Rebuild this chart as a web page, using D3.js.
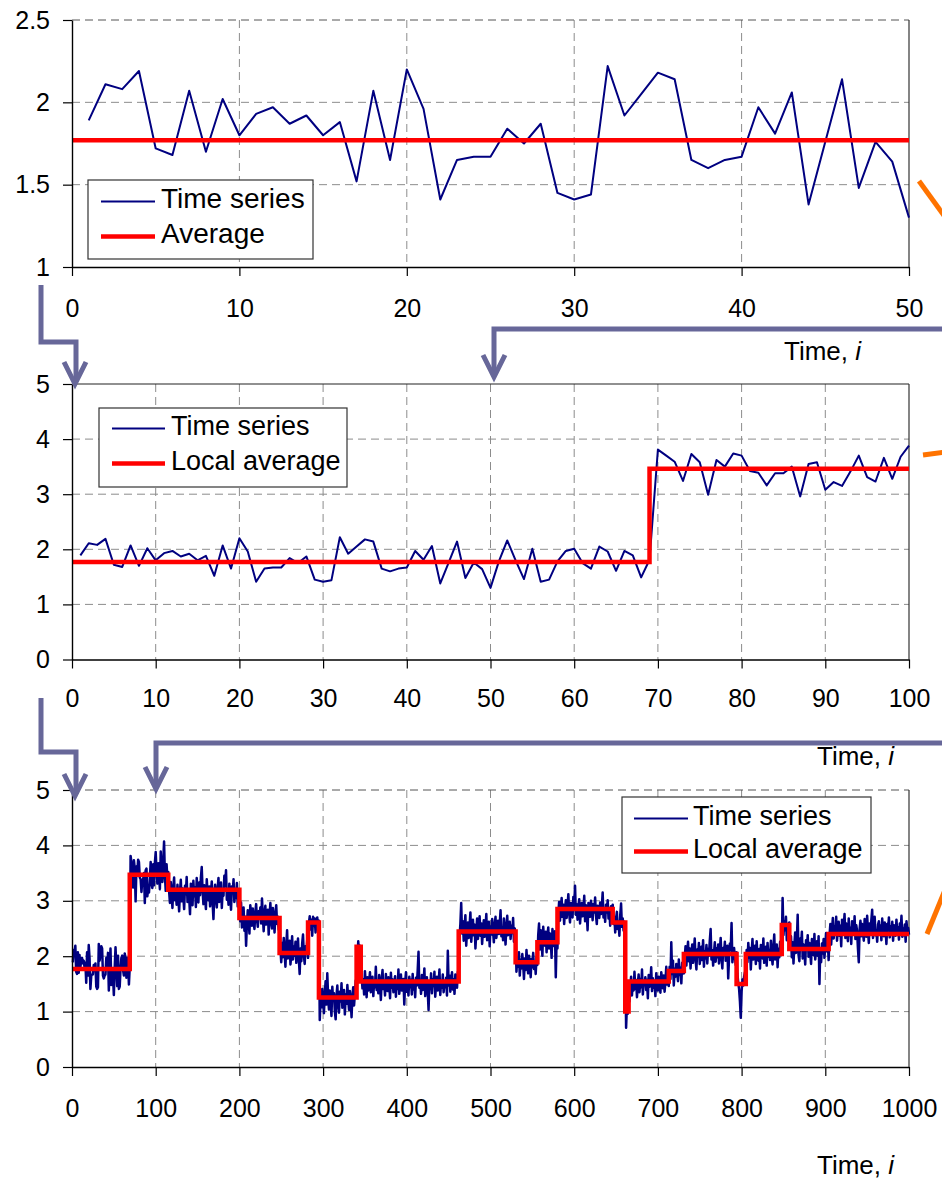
<!DOCTYPE html>
<html>
<head>
<meta charset="utf-8">
<script src="https://cdn.jsdelivr.net/npm/d3@7"></script>
<style>
  html, body { margin: 0; padding: 0; background: #ffffff; }
  svg { display: block; font-family: "Liberation Sans", Arial, sans-serif; }
</style>
</head>
<body>
<svg id="fig" width="942" height="1179"></svg>
<script>
// ---- observations i = 1..50 ----
const seriesFirst50 = [1.89,2.11,2.08,2.19,1.72,1.68,2.07,1.70,2.02,1.80,1.93,1.97,1.87,1.92,1.80,1.88,1.52,2.07,1.65,2.20,
  1.96,1.41,1.65,1.67,1.67,1.84,1.75,1.87,1.45,1.41,1.44,2.22,1.92,2.05,2.18,2.14,1.65,1.60,1.65,1.67,
  1.97,1.81,2.06,1.38,1.76,2.14,1.48,1.76,1.64,1.30];

// ---- observations i = 51..100 ----
const seriesNext50 = [1.78,2.16,1.80,1.46,2.01,1.41,1.45,1.78,1.97,2.01,1.75,1.65,2.05,1.96,1.61,1.97,1.89,1.49,1.81,3.81,
  3.70,3.59,3.24,3.73,3.58,2.99,3.62,3.50,3.74,3.70,3.42,3.39,3.16,3.38,3.38,3.50,2.96,3.55,3.58,3.08,
  3.22,3.15,3.41,3.70,3.31,3.23,3.66,3.28,3.68,3.88];

// ---- observations i = 101..1000 ----
const seriesRest = [
  3.52,3.31,3.68,3.47,3.21,3.89,3.56,3.34,3.72,4.07,3.45,3.18,3.66,3.39,3.52,
  3.18,2.96,3.34,3.11,2.87,3.25,3.42,3.01,3.15,2.93,3.29,3.06,2.81,3.17,3.38,2.99,3.22,3.09,2.85,3.27,
  3.12,3.43,2.98,3.20,3.05,2.76,3.31,3.14,2.92,3.36,3.08,3.24,2.89,3.41,3.15,2.97,3.33,3.10,3.42,3.61,
  3.19,2.94,3.28,3.06,2.85,3.39,3.12,3.01,3.26,2.90,3.17,3.35,2.96,2.67,3.11,3.29,3.04,2.88,3.22,3.41,
  2.98,3.16,3.33,2.87,3.20,3.09,3.45,3.27,3.55,3.02,3.18,2.93,3.31,3.07,2.84,3.26,3.14,3.39,2.98,3.21,
  3.05,3.32,2.90,3.15,
  2.81,2.63,2.97,2.52,2.74,2.88,2.46,2.71,2.19,2.59,2.83,2.68,2.41,2.92,2.77,2.55,2.86,2.62,2.49,2.79,
  2.94,2.66,2.53,2.81,2.70,2.88,2.59,3.04,2.72,2.45,2.78,2.91,2.57,2.66,2.84,2.39,2.73,2.96,2.61,2.50,
  2.87,2.69,2.43,2.76,2.92,2.58,2.71,2.48,2.65,
  2.13,1.89,2.24,1.98,2.33,2.07,1.81,2.19,2.47,1.96,2.11,2.28,1.85,2.03,2.36,1.94,2.17,2.01,2.26,1.88,
  2.09,2.32,1.95,1.68,2.14,1.91,2.23,2.39,2.02,1.86,2.18,2.05,2.29,1.97,
  2.59,2.72,2.48,2.66,2.37,2.71,2.55,2.68,2.43,2.62,2.70,2.51,2.64,
  0.85,1.24,1.08,1.41,1.19,0.97,1.32,1.55,1.13,1.69,1.27,1.04,1.38,1.16,0.92,1.45,1.21,1.33,1.01,0.86,
  1.29,1.47,1.12,0.98,1.36,1.18,1.51,1.07,1.25,1.39,0.95,1.31,1.14,1.48,1.22,1.03,1.37,1.19,0.90,1.28,
  1.44,1.11,1.33,1.56,1.25,
  1.98,2.27,2.05,2.19,2.13,
  1.67,1.42,1.58,1.31,1.73,1.49,1.26,1.62,1.38,1.54,1.71,1.35,1.47,1.63,1.28,1.56,1.44,1.81,1.39,1.52,
  1.33,1.66,1.48,1.21,1.59,1.75,1.41,1.53,1.29,1.68,1.46,1.37,1.62,1.51,1.24,1.70,1.43,1.58,1.35,1.49,
  1.64,1.27,1.55,1.41,1.76,1.32,1.50,1.67,1.38,1.45,1.59,1.13,1.52,1.71,1.36,1.48,1.29,1.63,1.44,1.57,
  1.31,1.68,1.40,1.53,1.26,1.61,1.47,1.74,2.08,1.43,1.55,1.32,1.66,1.39,1.50,1.78,1.28,1.45,1.62,1.37,
  1.03,1.54,1.41,1.69,1.33,1.58,1.46,1.72,1.27,1.51,1.63,1.38,1.49,1.76,1.30,1.55,1.43,1.67,1.35,1.52,
  1.44,1.61,1.29,2.10,1.47,1.65,1.36,1.53,1.71,1.40,1.58,1.32,1.67,1.49,1.43,1.72,1.55,
  2.36,2.58,2.96,2.41,2.63,2.28,2.52,2.74,2.19,2.47,2.61,2.33,2.55,2.79,2.26,2.49,2.66,2.38,2.57,2.14,
  2.43,2.68,2.31,2.54,2.72,2.37,2.59,2.22,2.48,2.65,2.35,2.51,2.76,2.29,2.44,2.62,2.18,2.53,2.39,2.67,
  2.46,2.25,2.58,2.71,2.33,2.49,2.64,2.40,2.57,2.83,2.36,2.52,2.29,2.68,2.44,2.21,2.56,2.73,2.38,2.47,
  2.62,2.31,2.55,2.42,2.69,2.26,2.50,2.37,
  1.72,1.98,1.81,2.07,1.65,1.93,1.78,2.04,1.86,1.59,1.96,1.75,2.11,1.83,1.69,2.01,1.88,1.62,1.95,1.80,
  2.06,1.77,1.91,1.68,1.99,1.84,
  2.38,2.59,2.12,2.47,2.26,2.01,2.53,2.31,2.19,2.44,2.07,2.36,2.52,2.14,2.41,2.28,1.97,2.49,2.33,2.18,
  2.45,1.62,2.31,2.14,
  2.76,2.98,2.64,2.87,3.05,2.71,2.93,2.58,2.84,3.01,2.69,2.90,3.12,2.78,2.61,2.96,2.83,2.70,3.07,2.88,
  3.27,2.75,2.94,2.66,2.89,3.03,2.59,2.81,2.96,2.72,2.85,3.09,2.63,2.92,2.78,2.47,2.96,2.84,2.71,3.00,
  2.88,2.65,2.94,2.79,3.06,2.74,2.58,2.91,2.83,2.69,2.97,2.76,2.89,3.15,2.70,2.86,2.62,2.93,2.79,3.01,
  2.68,2.84,2.55,2.90,2.77,2.93,
  2.58,2.71,2.43,2.66,2.80,2.49,2.62,2.37,2.74,2.95,2.53,2.68,2.46,2.62,2.32,
  0.71,1.12,0.96,1.21,
  1.18,1.46,1.63,1.29,1.55,1.38,1.72,1.41,1.57,1.26,1.50,1.67,1.35,1.59,1.44,1.76,1.31,1.53,1.48,1.62,
  1.39,1.57,1.24,1.66,1.45,1.52,1.80,1.37,1.60,1.43,1.55,1.28,1.69,1.47,1.38,1.63,1.51,1.34,1.71,1.58,
  1.42,1.65,1.36,1.54,1.81,1.49,1.62,1.46,
  1.81,1.59,2.25,1.68,1.92,1.47,1.77,1.63,1.86,1.72,1.55,1.94,1.66,1.79,1.51,1.88,1.74,1.69,
  1.96,2.18,1.83,2.07,2.26,1.91,2.14,1.78,2.03,2.21,1.88,2.09,2.32,1.95,1.76,2.12,1.99,2.24,1.86,2.05,
  2.17,1.93,2.29,1.81,2.08,1.96,2.20,1.87,2.13,2.01,2.28,2.49,1.94,2.11,1.83,2.06,2.25,1.90,2.14,1.98,
  2.21,1.87,2.09,2.33,1.96,1.78,2.15,2.03,2.26,1.92,2.08,2.19,1.60,1.97,2.23,2.11,2.60,1.89,2.06,2.15,
  1.98,1.84,2.07,
  1.68,1.52,1.41,1.19,0.89,1.36,1.58,1.47,1.63,1.71,1.56,
  2.11,1.89,2.24,1.97,2.15,1.76,2.08,2.31,1.94,2.03,2.19,1.86,2.27,2.01,1.92,2.13,1.78,2.20,2.05,1.96,
  2.32,1.88,2.09,2.17,1.83,2.24,1.99,2.11,1.93,2.28,2.02,1.85,2.16,2.39,1.94,2.07,2.21,1.80,2.13,1.98,
  2.26,2.05,2.19,
  3.05,2.38,2.62,2.47,2.71,2.29,2.58,2.44,2.61,
  2.14,2.36,1.98,2.25,1.87,2.19,2.43,2.06,2.28,2.75,2.03,1.91,2.32,2.17,2.44,1.96,2.21,2.08,1.85,2.29,
  2.13,2.38,1.99,2.24,2.07,1.86,2.31,2.15,2.02,2.40,1.94,2.19,2.27,2.01,2.36,1.50,2.12,1.89,2.23,2.05,
  2.31,1.97,2.18,2.42,2.09,2.26,1.93,
  2.36,2.58,2.21,2.47,2.69,2.32,2.54,2.43,2.71,2.28,2.49,2.62,2.37,2.55,2.18,2.66,2.41,2.53,2.76,2.33,
  2.59,2.44,2.27,2.68,2.38,2.51,2.22,2.63,2.47,2.39,2.72,2.31,2.56,2.45,2.14,1.89,2.49,2.64,2.36,2.58,
  2.42,2.28,2.67,2.51,2.35,2.73,2.46,2.24,2.59,2.40,2.65,2.84,2.33,2.52,2.71,2.38,2.46,2.26,2.57,2.63,
  2.41,2.55,2.29,2.68,2.43,2.36,2.61,2.50,2.22,2.58,2.47,2.70,2.34,2.53,2.39,2.62,2.28,2.56,2.45,2.37,
  2.66,2.41,2.52,2.30,2.59,2.44,2.73,2.35,2.49,2.38,2.57,2.26,2.63,2.44,2.51,2.39
];

// ---- averages ----
const overallAverage = 1.77;
const midBreaks = [0, 69, 100];
const midLevels = [1.77, 3.46];
const longBreaks = [0, 69, 115, 200, 248, 282, 295, 340, 345, 462, 530, 556, 580, 646, 661, 665, 713, 731, 794, 805, 848, 857, 904, 1000];
const longLevels = [1.77, 3.47, 3.20, 2.69, 2.06, 2.61, 1.255, 2.17, 1.545, 2.445, 1.89, 2.25, 2.85, 2.61, 1.0, 1.545, 1.735, 2.04, 1.50, 2.04, 2.565, 2.13, 2.40];

// ---- axis ticks ----
const topTicksX = [0, 10, 20, 30, 40, 50];
const topTicksY = [1, 1.5, 2, 2.5];
const midTicksX = [0, 10, 20, 30, 40, 50, 60, 70, 80, 90, 100];
const midTicksY = [0, 1, 2, 3, 4, 5];
const longTicksX = [0, 100, 200, 300, 400, 500, 600, 700, 800, 900, 1000];
const longTicksY = [0, 1, 2, 3, 4, 5];

const axisTitle = "Time, ";
const axisTitleVar = "i";
const legendSeries = "Time series";
const legendAvgTop = "Average";
const legendAvgLocal = "Local average";

// -------------------------------------------------------------------
const svg = d3.select("#fig");
const NAVY = "#000080", RED = "#ff0000", GRID = "#8c8c8c";
const ARROW = "#676799", ORANGE = "#ff7300";

function toPoints(values, startIndex) {
  return values.map((v, k) => ({ i: startIndex + k, v }));
}
function stepPoints(breaks, levels) {
  const pts = levels.map((lv, k) => ({ i: breaks[k], v: lv }));
  pts.push({ i: breaks[breaks.length - 1], v: levels[levels.length - 1] });
  return pts;
}

function panel(cfg) {
  const x = d3.scaleLinear().domain(cfg.xDomain).range([72, 909]);
  const y = d3.scaleLinear().domain(cfg.yDomain).range([cfg.bottom, cfg.top]);
  const g = svg.append("g");

  // dashed grid
  g.append("g").selectAll("line").data(cfg.xTicks.slice(1, -1)).join("line")
    .attr("x1", d => x(d)).attr("x2", d => x(d))
    .attr("y1", cfg.top).attr("y2", cfg.bottom)
    .attr("stroke", GRID).attr("stroke-width", 1).attr("stroke-dasharray", "8,5");
  g.append("g").selectAll("line").data(cfg.yTicks.slice(1, cfg.topSolid ? -1 : undefined)).join("line")
    .attr("x1", 72).attr("x2", 909)
    .attr("y1", d => y(d)).attr("y2", d => y(d))
    .attr("stroke", d => d === cfg.yDomain[1] ? "#555" : GRID)
    .attr("stroke-width", 1).attr("stroke-dasharray", "8,5");
  if (cfg.topSolid) {
    g.append("line").attr("x1", 72).attr("x2", 909).attr("y1", cfg.top).attr("y2", cfg.top)
      .attr("stroke", "#222").attr("stroke-width", 1.2);
  }
  // right border
  g.append("line").attr("x1", 909).attr("x2", 909).attr("y1", cfg.top).attr("y2", cfg.bottom)
    .attr("stroke", "#333").attr("stroke-width", 1.2);

  // series line
  const line = d3.line().x(d => x(d.i)).y(d => y(d.v));
  g.append("path").datum(cfg.series).attr("d", line)
    .attr("fill", "none").attr("stroke", NAVY).attr("stroke-width", cfg.seriesWidth)
    .attr("stroke-linejoin", "round");

  // average line
  const stepLine = d3.line().curve(d3.curveStepAfter).x(d => x(d.i)).y(d => y(d.v));
  g.append("path").datum(cfg.avg).attr("d", stepLine)
    .attr("fill", "none").attr("stroke", RED).attr("stroke-width", 4.5)
    .attr("stroke-linejoin", "miter");

  // axes
  const yAxis = d3.axisLeft(y).tickValues(cfg.yTicks).tickSizeInner(9).tickSizeOuter(0)
    .tickPadding(13).tickFormat(d3.format("~g"));
  const ya = g.append("g").attr("transform", `translate(72,0)`).call(yAxis);
  const xAxis = d3.axisBottom(x).tickValues(cfg.xTicks).tickSizeInner(9).tickSizeOuter(0)
    .tickPadding(cfg.xPad).tickFormat(d3.format("d"));
  const xa = g.append("g").attr("transform", `translate(0,${cfg.bottom})`).call(xAxis);
  [ya, xa].forEach(a => {
    a.select(".domain").attr("stroke", "#000").attr("stroke-width", 1.4);
    a.selectAll(".tick line").attr("stroke", "#000").attr("stroke-width", 1.2);
    a.selectAll(".tick text").attr("fill", "#000").style("font-size", "25px")
      .style("font-family", "'Liberation Sans', Arial, sans-serif");
  });

  // axis title
  const t = g.append("text").attr("x", cfg.titleX).attr("y", cfg.titleY)
    .attr("fill", "#000").style("font-size", "26px");
  t.append("tspan").text(axisTitle);
  t.append("tspan").style("font-style", "italic").text(axisTitleVar);

  // legend
  const L = cfg.legend;
  const lg = g.append("g");
  lg.append("rect").attr("x", L.x).attr("y", L.y).attr("width", L.w).attr("height", L.h)
    .attr("fill", "#fff").attr("stroke", "#333").attr("stroke-width", 1.2);
  lg.append("line").attr("x1", L.x + L.s0).attr("x2", L.x + L.s1)
    .attr("y1", L.b1 - 6.5).attr("y2", L.b1 - 6.5).attr("stroke", NAVY).attr("stroke-width", 2);
  lg.append("line").attr("x1", L.x + L.s0).attr("x2", L.x + L.s1)
    .attr("y1", L.b2 - 6.5).attr("y2", L.b2 - 6.5).attr("stroke", RED).attr("stroke-width", 4.5);
  lg.append("text").attr("x", L.x + L.tx).attr("y", L.b1).text(legendSeries)
    .attr("fill", "#000").style("font-size", L.fs + "px");
  lg.append("text").attr("x", L.x + L.tx).attr("y", L.b2).text(L.avgLabel)
    .attr("fill", "#000").style("font-size", L.fs + "px");
}

const firstHundred = seriesFirst50.concat(seriesNext50);
const allThousand = firstHundred.concat(seriesRest);

panel({
  top: 20, bottom: 267, xDomain: [0, 50], yDomain: [1, 2.5],
  xTicks: topTicksX, yTicks: topTicksY, xPad: 23, topSolid: false,
  series: toPoints(seriesFirst50, 1), seriesWidth: 2,
  avg: [{ i: 0, v: overallAverage }, { i: 50, v: overallAverage }],
  titleX: 784, titleY: 360,
  legend: { x: 88, y: 180, w: 225, h: 79, s0: 13, s1: 67, tx: 73, b1: 208, b2: 243, fs: 28, avgLabel: legendAvgTop }
});

panel({
  top: 384, bottom: 659.5, xDomain: [0, 100], yDomain: [0, 5],
  xTicks: midTicksX, yTicks: midTicksY, xPad: 21, topSolid: true,
  series: toPoints(firstHundred, 1), seriesWidth: 2,
  avg: stepPoints(midBreaks, midLevels),
  titleX: 817, titleY: 765,
  legend: { x: 99, y: 408, w: 248, h: 79, s0: 13, s1: 66, tx: 72, b1: 435, b2: 470, fs: 27, avgLabel: legendAvgLocal }
});

panel({
  top: 790, bottom: 1067, xDomain: [0, 1000], yDomain: [0, 5],
  xTicks: longTicksX, yTicks: longTicksY, xPad: 23, topSolid: false,
  series: toPoints(allThousand, 1), seriesWidth: 2.5,
  avg: stepPoints(longBreaks, longLevels),
  titleX: 817, titleY: 1174,
  legend: { x: 622, y: 797, w: 249, h: 76, s0: 12, s1: 66, tx: 71, b1: 825, b2: 858, fs: 27, avgLabel: legendAvgLocal }
});

// ---- connector arrows between panels ----
const arrows = [
  { path: [[41, 285], [41, 342], [76, 342], [76, 382]], tip: [75, 384] },
  { path: [[942, 329], [494, 329], [494, 375]], tip: [494, 377] },
  { path: [[41, 698], [41, 752], [76, 752], [76, 794]], tip: [75, 796] },
  { path: [[942, 743], [156, 743], [156, 786]], tip: [156, 789] }
];
const ag = svg.append("g");
arrows.forEach(a => {
  ag.append("path").attr("d", d3.line()(a.path))
    .attr("fill", "none").attr("stroke", ARROW).attr("stroke-width", 5)
    .attr("stroke-linejoin", "miter");
  const [tx, ty] = a.tip;
  ag.append("path").attr("d", d3.line()([[tx - 11, ty - 22], [tx, ty], [tx + 11, ty - 22]]))
    .attr("fill", "none").attr("stroke", ARROW).attr("stroke-width", 5)
    .attr("stroke-linejoin", "miter");
});

// ---- orange pointers at the right edge ----
const pointers = [
  [[919, 181], [945, 217]],
  [[923, 455], [945, 452]],
  [[927, 934], [945, 890]]
];
svg.append("g").selectAll("path").data(pointers).join("path")
  .attr("d", d => d3.line()(d))
  .attr("stroke", ORANGE).attr("stroke-width", 5).attr("fill", "none");
</script>
</body>
</html>
